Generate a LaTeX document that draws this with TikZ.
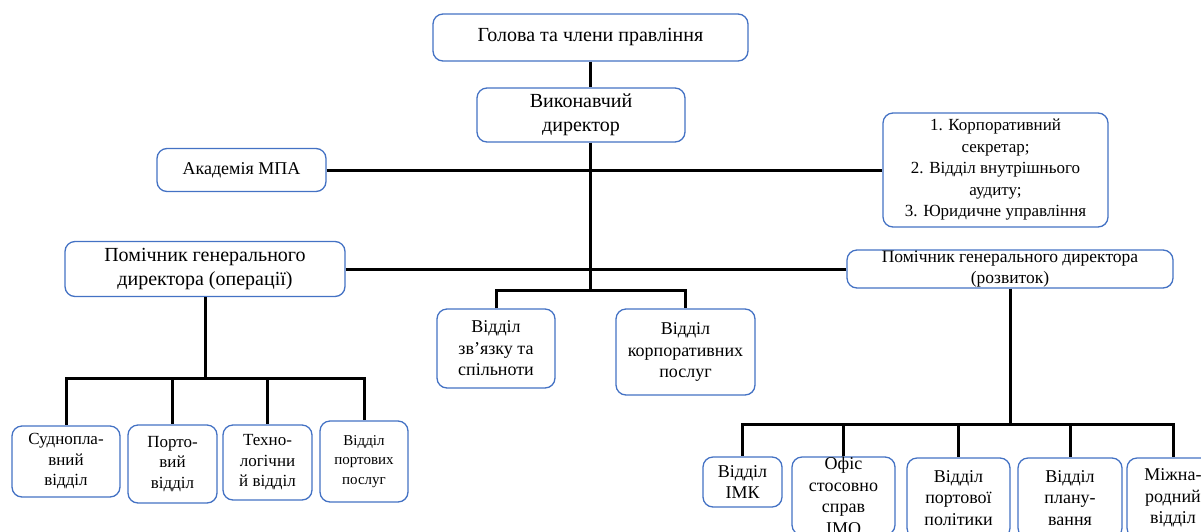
\documentclass[tikz,border=0pt]{standalone}
\usepackage{fontspec}
\setmainfont{Liberation Serif}
\usetikzlibrary{positioning,calc}
\definecolor{boxblue}{RGB}{68,114,196}
\tikzset{
    unit/.style={draw=boxblue, line width=1.3pt, rounded corners=10pt, fill=white, align=center, inner sep=0pt},
    link/.style={draw, line width=3pt, black},
    big/.style={font=\fontsize{20}{24}\selectfont},
    mid/.style={font=\fontsize{18}{21.5}\selectfont},
    lowfont/.style={font=\fontsize{17}{20.5}\selectfont},
    small/.style={font=\fontsize{15}{19.5}\selectfont}
}

\begin{document}
\begin{tikzpicture}[x=1pt, y=-1pt]
    \useasboundingbox (0,0) rectangle (1201,531);
    \clip (0,0) rectangle (1201,531);
    % top of the chart
    \node[unit, big, minimum width=315, minimum height=47] (board) at (590.5,37.5) {Голова та члени правління};
    \node[unit, big, minimum width=208, minimum height=54] (exec) at (581,115) {Виконавчий\\директор};
    \node[unit, mid, minimum width=169, minimum height=43] (academy) at (241.5,170) {Академія МПА};
    \node[unit, font=\fontsize{17}{21.5}\selectfont, minimum width=225, minimum height=114] (audit) at (995.5,170) {1. Корпоративний\\секретар;\\2. Відділ внутрішнього\\аудиту;\\3. Юридичне управління};
    \node[unit, big, minimum width=280, minimum height=55] (ops) at (205,269) {Помічник генерального\\директора (операції)};
    \node[unit, font=\fontsize{17.5}{21}\selectfont, minimum width=326, minimum height=38] (dev) at (1010,269) {Помічник генерального директора\\(розвиток)};
    \node[unit, mid, minimum width=118, minimum height=79] (comm) at (496,348.5) {Відділ\\зв’язку та\\спільноти};
    \node[unit, mid, minimum width=139, minimum height=86] (corp) at (685.5,352) {Відділ\\корпоративних\\послуг};
    % operations
    \node[unit, lowfont, minimum width=108, minimum height=71] (ship) at (66,461.5) {Суднопла-\\вний\\відділ};
    \node[unit, lowfont, minimum width=89, minimum height=78] (port) at (172.5,464) {Порто-\\вий\\відділ};
    \node[unit, lowfont, minimum width=89, minimum height=75] (tech) at (267.5,462.5) {Техно-\\логічни\\й відділ};
    \node[unit, small, minimum width=88, minimum height=81] (serv) at (364,461.5) {Відділ\\портових\\послуг};
    % development
    \node[unit, mid, minimum width=79, minimum height=50] (imk) at (742.5,482) {Відділ\\ІМК};
    \node[unit, mid, minimum width=103, minimum height=78] (imo) at (843.5,496) {Офіс\\стосовно\\справ\\ІМО};
    \node[unit, mid, minimum width=103, minimum height=80] (policy) at (958.5,498) {Відділ\\портової\\політики};
    \node[unit, mid, minimum width=104, minimum height=80] (plan) at (1070,498) {Відділ\\плану-\\вання};
    \node[unit, mid, minimum width=92, minimum height=80] (intl) at (1173,498) {Міжна-\\родний\\відділ};

    \coordinate (trunk) at (590.5,290);
    \coordinate (opsbar) at (205,378);
    \coordinate (devbar) at (1010,424);

    \draw[link] (board.south) -- (board.south |- exec.north);
    \draw[link] (exec.south -| board.south) -- (trunk);
    \draw[link] (academy) -- (audit);
    \draw[link] (ops) -- (dev);
    \draw[link] (comm.north) |- (trunk) -| (corp.north);
    \draw[link] (ops.south) -- (opsbar);
    \foreach \n in {ship,port,tech,serv}
        \draw[link] (opsbar) -| (\n.north);
    \draw[link] (dev.south) -- (devbar);
    \foreach \n in {imk,imo,policy,plan,intl}
        \draw[link] (devbar) -| (\n.north);
\end{tikzpicture}
\end{document}
